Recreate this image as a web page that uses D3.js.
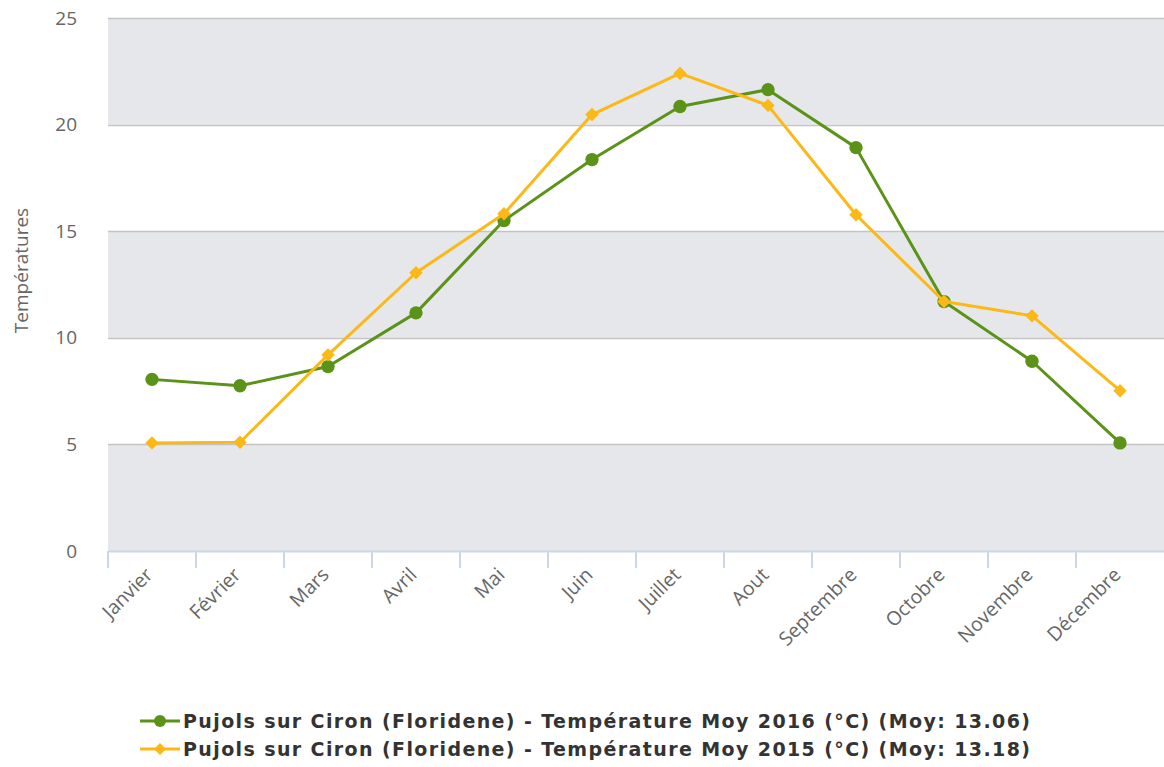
<!DOCTYPE html>
<html>
<head>
<meta charset="utf-8">
<script src="https://cdn.jsdelivr.net/npm/d3@7"></script>
<style>
  body { margin: 0; background: #fff; }
  svg { display: block; font-family: "Open Sans", "DejaVu Sans", sans-serif; }
</style>
</head>
<body>
<div id="chart"></div>
<script>
// data
const months = ["Janvier", "Février", "Mars", "Avril", "Mai", "Juin", "Juillet", "Aout", "Septembre", "Octobre", "Novembre", "Décembre"];
const temp2016 = [8.05, 7.75, 8.65, 11.17, 15.5, 18.36, 20.85, 21.64, 18.92, 11.7, 8.9, 5.07];
const temp2015 = [5.07, 5.1, 9.2, 13.05, 15.82, 20.47, 22.4, 20.9, 15.77, 11.7, 11.03, 7.52];
const yTicks = [0, 5, 10, 15, 20, 25];
const seriesNames = [
  "Pujols sur Ciron (Floridene) - Température Moy 2016 (°C) (Moy: 13.06)",
  "Pujols sur Ciron (Floridene) - Température Moy 2015 (°C) (Moy: 13.18)"
];

const width = 1164, height = 767;
const margin = {top: 18, right: 0, bottom: 216, left: 108};

const svg = d3.select("#chart").append("svg")
  .attr("width", width)
  .attr("height", height);

const x = d3.scaleBand()
  .domain(months)
  .range([margin.left, width - margin.right]);

const y = d3.scaleLinear()
  .domain([0, 25])
  .range([height - margin.bottom, margin.top]);

// alternate bands
const bands = d3.pairs(yTicks).filter((d, i) => i % 2 === 0);
svg.append("g")
  .selectAll("rect")
  .data(bands)
  .enter().append("rect")
  .attr("x", margin.left)
  .attr("width", width - margin.right - margin.left)
  .attr("y", d => y(d[1]))
  .attr("height", d => y(d[0]) - y(d[1]))
  .attr("fill", "#e6e7ea");

// grid lines
svg.append("g")
  .selectAll("line")
  .data(yTicks.filter(d => d > 0))
  .enter().append("line")
  .attr("x1", margin.left)
  .attr("x2", width - margin.right)
  .attr("y1", d => Math.round(y(d)) + 0.5)
  .attr("y2", d => Math.round(y(d)) + 0.5)
  .attr("stroke", "#c4c4c4")
  .attr("stroke-width", 1.5);

// y axis labels
const yAxis = svg.append("g")
  .attr("transform", `translate(${margin.left},0)`)
  .call(d3.axisLeft(y).tickValues(yTicks).tickSize(0).tickPadding(31));
yAxis.select(".domain").remove();
yAxis.selectAll("text")
  .attr("fill", "#666")
  .style("font-size", "19px")
  .style("font-family", "'Open Sans', 'DejaVu Sans', sans-serif");

svg.append("text")
  .attr("transform", `translate(28,${(margin.top + height - margin.bottom) / 2 - 14}) rotate(-90)`)
  .attr("text-anchor", "middle")
  .attr("fill", "#666")
  .style("font-size", "19px")
  .text("Températures");

// x axis
const xAxis = svg.append("g")
  .attr("transform", `translate(0,${y(0)})`)
  .call(d3.axisBottom(x).tickSize(0).tickPadding(0));
xAxis.select(".domain")
  .attr("stroke", "#ccd6eb")
  .attr("stroke-width", 2);
xAxis.selectAll(".tick text")
  .attr("fill", "#666")
  .style("font-size", "19.5px")
  .style("font-family", "'Open Sans', 'DejaVu Sans', sans-serif")
  .attr("text-anchor", "end")
  .attr("dy", null)
  .attr("y", 0)
  .attr("transform", "translate(2,25) rotate(-45)");

// category boundary ticks
svg.append("g")
  .selectAll("line")
  .data(months)
  .enter().append("line")
  .attr("x1", d => x(d))
  .attr("x2", d => x(d))
  .attr("y1", y(0))
  .attr("y2", y(0) + 17)
  .attr("stroke", "#ccd6eb")
  .attr("stroke-width", 2);

const series = [
  {values: temp2016, color: "#5b9218", symbol: d3.symbolCircle, size: 140, rot: 0},
  {values: temp2015, color: "#fbb817", symbol: d3.symbolSquare, size: 90, rot: 45}
];

const line = d3.line()
  .x((d, i) => x(months[i]) + x.bandwidth() / 2)
  .y(d => y(d));

series.forEach(s => {
  const g = svg.append("g");
  g.append("path")
    .datum(s.values)
    .attr("fill", "none")
    .attr("stroke", s.color)
    .attr("stroke-width", 3)
    .attr("stroke-linejoin", "round")
    .attr("d", line);
  g.selectAll("path.marker")
    .data(s.values)
    .enter().append("path")
    .attr("class", "marker")
    .attr("transform", (d, i) => `translate(${x(months[i]) + x.bandwidth() / 2},${y(d)}) rotate(${s.rot})`)
    .attr("d", d3.symbol().type(s.symbol).size(s.size))
    .attr("fill", s.color);
});

// legend
const legend = svg.append("g")
  .selectAll("g")
  .data(series)
  .enter().append("g")
  .attr("transform", (d, i) => `translate(140,${721 + i * 28})`);
legend.append("line")
  .attr("x1", 0).attr("x2", 40)
  .attr("stroke", d => d.color)
  .attr("stroke-width", 3);
legend.append("path")
  .attr("transform", d => `translate(20,0) rotate(${d.rot})`)
  .attr("d", d => d3.symbol().type(d.symbol).size(d.size * 0.8)())
  .attr("fill", d => d.color);
legend.append("text")
  .attr("x", 43)
  .attr("dy", "0.36em")
  .attr("fill", "#333")
  .attr("textLength", 847)
  .attr("lengthAdjust", "spacing")
  .style("font-size", "19px")
  .style("font-weight", "bold")
  .style("font-family", "'DejaVu Sans', Verdana, sans-serif")
  .text((d, i) => seriesNames[i]);
</script>
</body>
</html>
